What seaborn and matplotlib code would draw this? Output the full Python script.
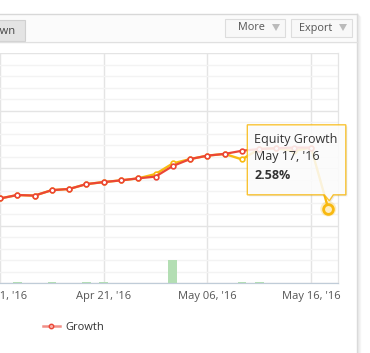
import numpy as np
import pandas as pd
import seaborn as sns
import matplotlib.pyplot as plt
from matplotlib.patches import Rectangle, Polygon, Circle
from matplotlib.lines import Line2D

# data (ordinal x axis, one slot per data point)
dates = ["Apr 11, '16", "Apr 12, '16", "Apr 14, '16", "Apr 15, '16", "Apr 18, '16",
         "Apr 19, '16", "Apr 21, '16", "Apr 22, '16", "Apr 26, '16", "Apr 28, '16",
         "May 02, '16", "May 04, '16", "May 06, '16", "May 09, '16", "May 10, '16",
         "May 11, '16", "May 12, '16", "May 13, '16", "May 16, '16", "May 17, '16"]
growth = [2.94, 3.06, 3.04, 3.23, 3.27, 3.44, 3.51, 3.57, 3.64, 3.70,
          4.07, 4.31, 4.43, 4.49, 4.60, 4.66, 4.69, 4.71, 4.71, np.nan]
equity_growth = [2.94, 3.06, 3.04, 3.23, 3.27, 3.44, 3.51, 3.57, 3.64, 3.79,
                 4.16, 4.31, 4.43, 4.49, 4.30, 4.66, 4.69, 4.59, 4.71, 2.58]
bar_values = [0, 0.04, 0, 0.04, 0, 0.04, 0.04, 0, 0, 0,
              1.0, 0, 0, 0, 0.04, 0.04, 0, 0, 0, 0]
tick_labels = ["Apr 11, '16", "Apr 21, '16", "May 06, '16", "May 16, '16"]
hover_label = "Equity Growth"

df = pd.DataFrame({"i": np.arange(len(dates)), "date": dates, "growth": growth,
                   "equity": equity_growth, "bars": bar_values})

W, H = 370, 353
RED = "#eb4636"
YEL = "#f8b910"

plt.rcParams["font.family"] = ["Open Sans", "DejaVu Sans"]
fig = plt.figure(figsize=(W / 100, H / 100), dpi=100)
fig.patch.set_facecolor("white")


def fx(x, y):
    return (x / W, 1 - y / H)


# plot area: x 0..338, y 53..283 in screenshot pixels
ax = fig.add_axes([0, (H - 283) / H, 338 / W, 230 / H])
ax2 = ax.twinx()  # bars sit on top of the grid, lines never reach them

sns.barplot(data=df, x="i", y="bars", native_scale=True, width=0.5,
            color="#b3deb3", saturation=1, ax=ax2)
ax2.set_ylim(0, 10)
ax2.set_yticks([])
ax2.set_ylabel("")

sns.lineplot(data=df, x="i", y="equity", color=YEL, lw=1.7, marker="o",
             markersize=3.4, markerfacecolor="white", markeredgecolor=YEL,
             markeredgewidth=1.2, ax=ax)
sns.lineplot(data=df, x="i", y="growth", color=RED, lw=1.6, marker="o",
             markersize=3.4, markerfacecolor="white", markeredgecolor=RED,
             markeredgewidth=1.2, ax=ax)

ax.set_xlim(0.434, 19.56)
ax2.set_xlim(0.434, 19.56)
ax.set_ylim(0, 8)
ticks = [dates.index(t) for t in tick_labels]
ax.set_xticks(ticks)
ax.set_xticklabels(tick_labels, fontsize=8, color="#555555")
ax.set_yticks(np.arange(0, 8.01, 2))
ax.set_yticks(np.arange(0, 8.01, 0.4), minor=True)
ax.tick_params(axis="y", which="both", left=False, labelleft=False)
ax.tick_params(axis="x", length=0, pad=6)
ax.set_xlabel("")
ax.set_ylabel("")
ax.grid(axis="y", which="minor", color="#f3f3f3", lw=1)
ax.grid(axis="y", which="major", color="#e4e4e4", lw=1)
ax.grid(axis="x", which="major", color="#e4e4e4", lw=1)
ax.set_axisbelow(True)
ax2.grid(False)
for a in (ax, ax2):
    for s in ("left", "top"):
        a.spines[s].set_visible(False)
    a.spines["right"].set_color("#e4e4e4")
    a.spines["bottom"].set_color("#c0ccd8")

# legend
ax2.legend(handles=[Line2D([], [], color="#f19088", lw=1.8, marker="o", markersize=3.2,
                           markerfacecolor="#f7b0aa", markeredgecolor=RED)],
           labels=["Growth"], loc="center left", bbox_to_anchor=(33 / 338, -(327 - 283) / 230),
           frameon=False, fontsize=8, handlelength=1.5, handletextpad=0.5,
           labelcolor="#333333")

# hovered point, halo and tooltip
fig.canvas.draw()
hx, hy = ax.transData.transform((19, equity_growth[19]))
hy = H - hy
fig.add_artist(Circle(fx(hx, hy), 8 / W, color=YEL, alpha=0.25, lw=0,
                      transform=fig.transFigure))
ax2.plot([19], [equity_growth[19] * 10 / 8], "o", ms=7, mfc="white", mec=YEL, mew=2, zorder=10)

bl, br, bt, bb = hx - 81, hx + 17.5, hy - 84, hy - 14
outline = [(bl, bt), (br, bt), (br, bb), (hx + 5, bb), (hx + 1, hy - 8), (hx - 4, bb), (bl, bb)]
fig.add_artist(Polygon([fx(x + 1.5, y + 1.5) for x, y in outline], closed=True,
                       fc="#000000", alpha=0.08, lw=0, transform=fig.transFigure, zorder=20))
fig.add_artist(Polygon([fx(x, y) for x, y in outline], closed=True, fc="white", ec=YEL,
                       lw=1, alpha=0.85, transform=fig.transFigure, zorder=21))
fig.text(*fx(bl + 7, hy - 69), hover_label, fontsize=9, color="#333333", va="center", zorder=22)
fig.text(*fx(bl + 7, hy - 52), dates[19], fontsize=9, color="#333333", va="center", zorder=22)
fig.text(*fx(bl + 7, hy - 33), f"{equity_growth[19]:.2f}%", fontsize=9, color="#333333",
         fontweight="bold", va="center", zorder=22)

# panel chrome: toolbar, tab, buttons, border, shadow
fig.add_artist(Rectangle(fx(0, 41), 357 / W, 27 / H, fc="#fbfbfb", lw=0,
                         transform=fig.transFigure, zorder=1))
fig.add_artist(Rectangle(fx(-2, 41), 27 / W, 21 / H, fc="#e4e4e4", ec="#d0d0d0", lw=0.8,
                         transform=fig.transFigure, zorder=2))
fig.text(*fx(16, 31), "own", fontsize=8, color="#444444", ha="right", va="center", zorder=3)
for x0, x1, label, tx in [(225, 285, "More", 238), (291, 352, "Export", 299)]:
    fig.add_artist(Rectangle(fx(x0, 37), (x1 - x0) / W, 18 / H, fc="#f8f8f8", ec="#dddddd",
                             lw=0.8, transform=fig.transFigure, zorder=2))
    fig.text(*fx(tx, 28), label, fontsize=7.8, color="#555555", va="center", zorder=3)
    fig.add_artist(Polygon([fx(x1 - 13, 24), fx(x1 - 5, 24), fx(x1 - 9, 31)], closed=True,
                           fc="#bbbbbb", lw=0, transform=fig.transFigure, zorder=3))
fig.add_artist(Line2D([0, 357 / W], [1 - 14 / H, 1 - 14 / H], color="#d8d8d8", lw=1,
                      transform=fig.transFigure))
fig.add_artist(Line2D([0, 357 / W], [1 - 41.5 / H, 1 - 41.5 / H], color="#e0e0e0", lw=1,
                      transform=fig.transFigure, zorder=3))
fig.add_artist(Line2D([357 / W, 357 / W], [0, 1 - 14 / H], color="#d8d8d8", lw=1,
                      transform=fig.transFigure))
for k, c in enumerate(["#e6e6e6", "#eeeeee", "#f5f5f5"]):
    fig.add_artist(Line2D([(358 + k) / W] * 2, [0, 1 - (15 + k) / H], color=c, lw=1,
                          transform=fig.transFigure))

fig.savefig("out.png", dpi=100)
